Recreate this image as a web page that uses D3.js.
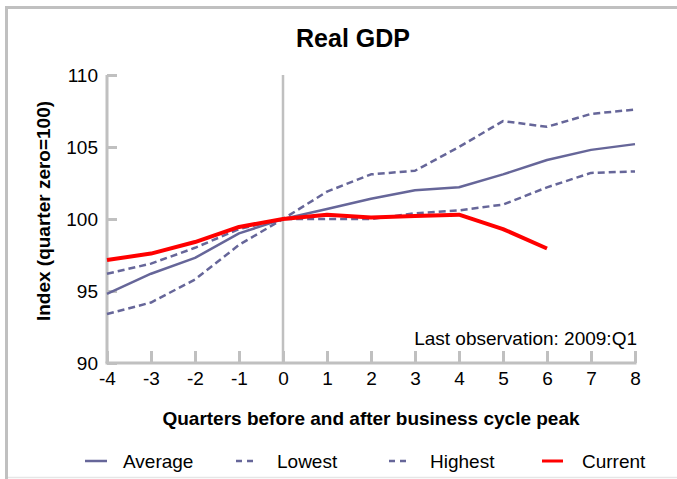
<!DOCTYPE html>
<html>
<head>
<meta charset="utf-8">
<script src="https://cdn.jsdelivr.net/npm/d3@7"></script>
<style>
  body { margin: 0; background: #fff; }
  text { font-family: "Liberation Sans", Arial, sans-serif; }
</style>
</head>
<body>
<div id="chart"></div>
<script>
const quarters = [-4, -3, -2, -1, 0, 1, 2, 3, 4, 5, 6, 7, 8];
const average = [94.8, 96.2, 97.3, 99.0, 100, 100.7, 101.4, 102.0, 102.2, 103.1, 104.1, 104.8, 105.2];
const lowest  = [96.2, 96.9, 98.0, 99.3, 100, 100.0, 100.0, 100.4, 100.6, 101.0, 102.2, 103.2, 103.3];
const highest = [93.4, 94.2, 95.8, 98.2, 100, 101.9, 103.1, 103.35, 105.0, 106.8, 106.4, 107.3, 107.6];
const current = [97.15, 97.6, 98.4, 99.45, 100, 100.3, 100.1, 100.2, 100.3, 99.3, 97.95];
const yTicks = [90, 95, 100, 105, 110];

const W = 677, H = 479;
const margin = {top: 75, right: 42, bottom: 116, left: 107},
    width = W - margin.left - margin.right,
    height = H - margin.top - margin.bottom;

const svg = d3.select("#chart").append("svg")
    .attr("width", W).attr("height", H);

// frame
svg.append("line").attr("x1", 6.5).attr("x2", 6.5).attr("y1", 6).attr("y2", 479)
    .attr("stroke", "#c0c0c0").attr("stroke-width", 3);
svg.append("line").attr("x1", 5).attr("x2", 677).attr("y1", 7.5).attr("y2", 7.5)
    .attr("stroke", "#c0c0c0").attr("stroke-width", 3);
svg.append("line").attr("x1", 8).attr("x2", 677).attr("y1", 477.5).attr("y2", 477.5)
    .attr("stroke", "#e6e6e6").attr("stroke-width", 1.5);

const g = svg.append("g")
    .attr("transform", "translate(" + margin.left + "," + margin.top + ")");

const x = d3.scaleLinear().domain([-4, 8]).range([0, width]);
const y = d3.scaleLinear().domain([90, 110]).range([height, 0]);

const axisColor = "#c0c0c0";

// y axis
const yAxis = g.append("g")
    .call(d3.axisRight(y).tickValues(yTicks).tickSize(10).tickFormat(d => String(d)));
yAxis.select(".domain").remove();
yAxis.selectAll(".tick line").attr("stroke", axisColor).attr("stroke-width", 3);
yAxis.selectAll(".tick text").attr("x", -9).attr("text-anchor", "end")
    .attr("fill", "#000").style("font-size", "19px");
g.append("line").attr("x1", 0).attr("x2", 0).attr("y1", 0).attr("y2", height)
    .attr("stroke", axisColor).attr("stroke-width", 3);

// x axis
const xAxis = g.append("g")
    .attr("transform", "translate(0," + height + ")")
    .call(d3.axisTop(x).tickValues(quarters).tickSize(12).tickFormat(d => String(d)));
xAxis.select(".domain").remove();
xAxis.selectAll(".tick line").attr("stroke", axisColor).attr("stroke-width", 3);
xAxis.selectAll(".tick text").attr("y", 22).attr("dy", null)
    .attr("fill", "#000").style("font-size", "19px");
g.append("line").attr("x1", -1.5).attr("x2", width + 1.5).attr("y1", height).attr("y2", height)
    .attr("stroke", axisColor).attr("stroke-width", 3);

// vertical line at quarter zero
g.append("line").attr("x1", x(0)).attr("x2", x(0)).attr("y1", 0).attr("y2", height)
    .attr("stroke", axisColor).attr("stroke-width", 2.5);

const line = d3.line().x((d, i) => x(quarters[i])).y(d => y(d));
const purple = "#666699";

const series = [
    {name: "Average", values: average, color: purple, width: 2.5, dash: null},
    {name: "Lowest", values: lowest, color: purple, width: 2.5, dash: "7,4"},
    {name: "Highest", values: highest, color: purple, width: 2.5, dash: "7,4"},
    {name: "Current", values: current, color: "#ff0000", width: 4, dash: null}
];

series.forEach(s => {
    g.append("path")
        .datum(s.values)
        .attr("fill", "none")
        .attr("stroke", s.color)
        .attr("stroke-width", s.width)
        .attr("stroke-dasharray", s.dash)
        .attr("stroke-linejoin", "round")
        .attr("d", line);
});

// texts
svg.append("text").attr("x", 353).attr("y", 47).attr("text-anchor", "middle")
    .style("font-size", "25px").style("font-weight", "bold").text("Real GDP");

svg.append("text").attr("x", 371).attr("y", 425).attr("text-anchor", "middle")
    .style("font-size", "19px").style("font-weight", "bold")
    .text("Quarters before and after business cycle peak");

svg.append("text").attr("transform", "translate(50,211) rotate(-90)")
    .attr("text-anchor", "middle")
    .style("font-size", "19px").style("font-weight", "bold")
    .text("Index (quarter zero=100)");

g.append("text").attr("x", width + 2).attr("y", 345 - margin.top).attr("text-anchor", "end")
    .style("font-size", "19px").text("Last observation: 2009:Q1");

// legend
const legendX = [85, 236, 389, 542];
const legendW = [22, 17, 17, 21];
const legendTextX = [123, 277, 430, 582];
series.forEach((s, i) => {
    svg.append("line")
        .attr("x1", legendX[i]).attr("x2", legendX[i] + legendW[i])
        .attr("y1", 461).attr("y2", 461)
        .attr("stroke", s.color).attr("stroke-width", s.name === "Current" ? 3 : 2.5)
        .attr("stroke-dasharray", s.dash ? "6,5" : null);
    svg.append("text")
        .attr("x", legendTextX[i]).attr("y", 468)
        .style("font-size", "19px").text(s.name);
});
</script>
</body>
</html>
